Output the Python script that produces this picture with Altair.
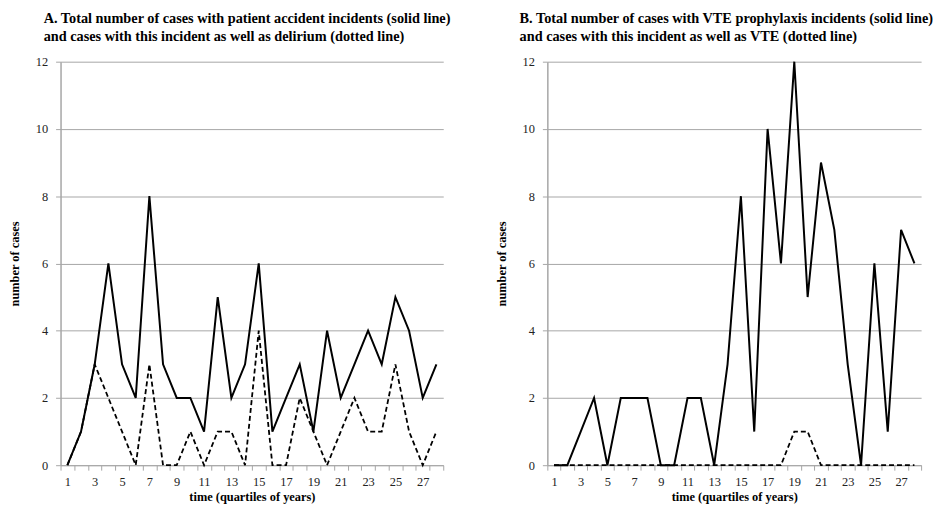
import altair as alt
import pandas as pd

quarters = [1, 2, 3, 4, 5, 6, 7, 8, 9, 10, 11, 12, 13, 14,
            15, 16, 17, 18, 19, 20, 21, 22, 23, 24, 25, 26, 27, 28]
a_total = [0, 1, 3, 6, 3, 2, 8, 3, 2, 2, 1, 5, 2, 3,
           6, 1, 2, 3, 1, 4, 2, 3, 4, 3, 5, 4, 2, 3]
a_delirium = [0, 1, 3, 2, 1, 0, 3, 0, 0, 1, 0, 1, 1, 0,
              4, 0, 0, 2, 1, 0, 1, 2, 1, 1, 3, 1, 0, 1]
b_total = [0, 0, 1, 2, 0, 2, 2, 2, 0, 0, 2, 2, 0, 3,
           8, 1, 10, 6, 12, 5, 9, 7, 3, 0, 6, 1, 7, 6]
b_vte = [0, 0, 0, 0, 0, 0, 0, 0, 0, 0, 0, 0, 0, 0,
         0, 0, 0, 0, 1, 1, 0, 0, 0, 0, 0, 0, 0, 0]
y_ticks = [0, 2, 4, 6, 8, 10, 12]

title_a = ["A. Total number of cases with patient accident incidents (solid line)",
           "and cases with this incident as well as delirium (dotted line)"]
title_b = ["B. Total number of cases with VTE prophylaxis incidents (solid line)",
           "and cases with this incident as well as VTE (dotted line)"]

SERIF = "Liberation Serif"
GRAY = "#a6a6a6"


def panel(total, sub, title, width, dx):
    df = pd.DataFrame({"quarter": quarters, "total": total, "sub": sub})
    xenc = alt.X(
        "quarter:O",
        scale=alt.Scale(type="band", domain=quarters, paddingInner=0, paddingOuter=0),
        axis=alt.Axis(
            title="time (quartiles of years)",
            tickBand="extent",
            labelExpr="datum.value % 2 == 1 ? datum.label : ''",
            labelAngle=0,
            grid=False,
            domainColor=GRAY,
            tickColor=GRAY,
            tickSize=5,
            labelPadding=5,
            labelFont=SERIF,
            labelFontSize=12.5,
            labelColor="#222",
            titleFont=SERIF,
            titleFontSize=12.5,
            titleFontWeight="bold",
            titleColor="black",
            titlePadding=3,
        ),
    )
    yenc_axis = alt.Axis(
        values=y_ticks,
        title="number of cases",
        grid=True,
        gridColor=GRAY,
        gridWidth=1,
        domainColor=GRAY,
        domainWidth=1.5,
        tickColor=GRAY,
        tickSize=5,
        labelPadding=8,
        labelFont=SERIF,
        labelFontSize=12.5,
        labelColor="#222",
        titleFont=SERIF,
        titleFontSize=12.5,
        titleFontWeight="bold",
        titleColor="black",
        titlePadding=14,
    )
    base = alt.Chart(df)
    solid = base.mark_line(color="black", strokeWidth=2).encode(
        x=xenc,
        y=alt.Y("total:Q", scale=alt.Scale(domain=[0, 12], nice=False), axis=yenc_axis),
    )
    dashed = base.mark_line(color="black", strokeWidth=1.8, strokeDash=[5, 3]).encode(
        x=xenc,
        y=alt.Y("sub:Q"),
    )
    return alt.layer(solid, dashed).properties(
        width=width,
        height=407,
        title=alt.TitleParams(
            title,
            anchor="start",
            frame="group",
            dx=dx,
            font=SERIF,
            fontSize=14.4,
            fontWeight="bold",
            color="black",
            lineHeight=19,
            offset=11,
        ),
    )


chart = alt.hconcat(
    panel(a_total, a_delirium, title_a, 386, -17),
    panel(b_total, b_vte, title_b, 377, -28),
    spacing=44,
).properties(padding=0).configure_view(stroke=None)

chart.save("out.html", embed_options={"renderer": "svg", "actions": False})
